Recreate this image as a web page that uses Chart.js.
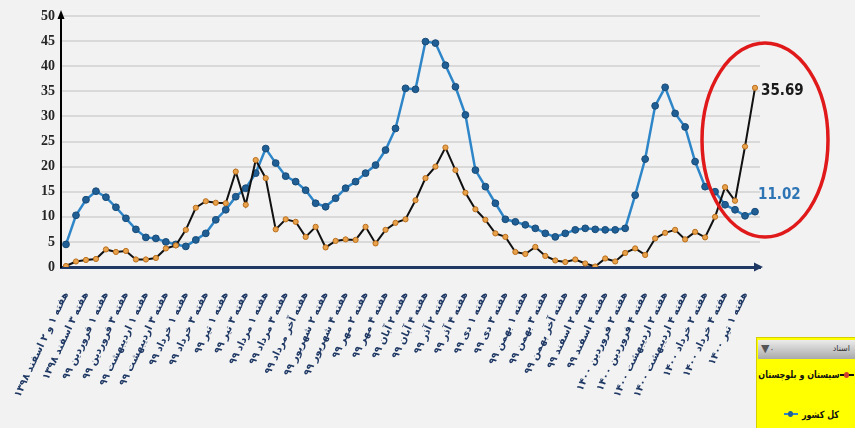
<!DOCTYPE html>
<html>
<head>
<meta charset="utf-8">
<script src="https://cdn.jsdelivr.net/npm/chart.js@4.4.1/dist/chart.umd.min.js"></script>
<style>
  html, body { margin: 0; padding: 0; background: #f2f2f2; }
  #wrap { position: relative; width: 855px; height: 428px; overflow: hidden; background: #f2f2f2; }
  #myChart { position: absolute; left: 0; top: 0; }
  #legend { position: absolute; left: 756px; top: 337px; width: 101px; height: 95px; background: #ffff00; border: 1px solid #d6cf00; box-sizing: border-box; }
  .lg-head { position: absolute; left: 1px; top: 2px; right: 0; height: 19px; background: linear-gradient(#ececec, #a9a9a9); }
  .lg-title { position: absolute; right: 6px; top: 4px; font: 8px "DejaVu Sans"; color: #333; direction: rtl; }
  .lg-filter { position: absolute; left: 3px; top: 2px; font: 11px "DejaVu Sans"; color: #555; }
  .lg-row { position: absolute; display: flex; align-items: center; white-space: nowrap; }
  .lg-text { display: inline-block; font: bold 10px "DejaVu Sans"; color: #111; direction: rtl; transform: scaleX(0.8); }
  #t1 { transform-origin: right center; margin-left: -22px; }
  #t2 { transform-origin: left center; }
  .ic { position: relative; display: inline-block; width: 14px; height: 8px; }
  .ic::before { content: ""; position: absolute; left: 0; right: 0; top: 3px; height: 2px; }
  .ic i { position: absolute; left: 4px; top: 1px; width: 5px; height: 6px; border-radius: 50%; }
  .ic1::before { background: #111; }
  .ic1 i { background: #d0402a; }
  .ic2::before { background: #2e86c8; }
  .ic2 i { background: #1f5f95; }
  #r1 { right: 2px; top: 31px; }
  #r2 { left: 27px; top: 67px; }
</style>
</head>
<body>
<div id="wrap">
  <canvas id="myChart" width="855" height="428"></canvas>
  <div id="legend">
    <div class="lg-head"><span class="lg-filter">▼<small>۰</small></span><span class="lg-title">اسناد</span></div>
    <div class="lg-row" id="r1"><span class="lg-text" id="t1"></span><span class="ic ic1"><i></i></span></div>
    <div class="lg-row" id="r2"><span class="ic ic2"><i></i></span>&nbsp;<span class="lg-text" id="t2"></span></div>
  </div>
</div>
<script>
const ctx = document.getElementById('myChart');

// one tick label every two weeks
const tickLabels = [
  'هفته ۱ و ۲ اسفند ۱۳۹۸', 'هفته ۳ اسفند ۱۳۹۸', 'هفته ۱ فروردین ۹۹', 'هفته ۳ فروردین ۹۹',
  'هفته ۱ اردیبهشت ۹۹', 'هفته ۳ اردیبهشت ۹۹', 'هفته ۱ خرداد ۹۹', 'هفته ۳ خرداد ۹۹',
  'هفته ۱ تیر ۹۹', 'هفته ۳ تیر ۹۹', 'هفته ۱ مرداد ۹۹', 'هفته ۳ مرداد ۹۹',
  'هفته آخر مرداد ۹۹', 'هفته ۲ شهریور ۹۹', 'هفته ۴ شهریور ۹۹', 'هفته ۲ مهر ۹۹',
  'هفته ۴ مهر ۹۹', 'هفته ۲ آبان ۹۹', 'هفته ۴ آبان ۹۹', 'هفته ۲ آذر ۹۹',
  'هفته ۴ آذر ۹۹', 'هفته ۱ دی ۹۹', 'هفته ۳ دی ۹۹', 'هفته ۱ بهمن ۹۹',
  'هفته ۳ بهمن ۹۹', 'هفته آخر بهمن ۹۹', 'هفته ۲ اسفند ۹۹', 'هفته ۴ اسفند ۹۹',
  'هفته ۲ فروردین ۱۴۰۰', 'هفته ۴ فروردین ۱۴۰۰', 'هفته ۲ اردیبهشت ۱۴۰۰', 'هفته ۴ اردیبهشت ۱۴۰۰',
  'هفته ۲ خرداد ۱۴۰۰', 'هفته ۴ خرداد ۱۴۰۰', 'هفته ۱ تیر ۱۴۰۰'
];

const seriesNames = ['سیستان و بلوچستان', 'کل کشور'];

const sistanValues = [
  0.2, 1.1, 1.4, 1.6, 3.5, 3.0, 3.2, 1.5, 1.5, 1.8,
  3.7, 4.3, 7.4, 11.8, 13.1, 12.8, 12.7, 19.0, 12.4, 21.3,
  17.7, 7.5, 9.5, 9.0, 6.0, 8.0, 3.9, 5.2, 5.5, 5.4,
  8.0, 4.7, 7.4, 8.8, 9.5, 13.3, 17.7, 20.0, 23.8, 19.3,
  14.8, 11.5, 9.4, 6.7, 6.0, 3.0, 2.6, 4.0, 2.2, 1.3,
  1.0, 1.5, 0.7, 0.1, 1.7, 1.1, 2.8, 3.7, 2.4, 5.7,
  6.8, 7.4, 5.5, 7.0, 5.9, 10.0, 15.9, 13.2, 24.0, 35.69
];

const countryValues = [
  4.5, 10.3, 13.4, 15.1, 13.9, 11.9, 9.7, 7.5, 5.9, 5.7,
  5.0, 4.5, 4.1, 5.4, 6.7, 9.4, 11.4, 14.0, 15.7, 18.7,
  23.6, 20.7, 18.1, 17.0, 15.3, 12.7, 12.0, 13.7, 15.7, 17.0,
  18.7, 20.3, 23.3, 27.6, 35.6, 35.4, 44.9, 44.6, 40.2, 35.9,
  30.3, 19.3, 16.0, 12.7, 9.5, 9.0, 8.4, 7.7, 6.7, 6.0,
  6.7, 7.4, 7.7, 7.5, 7.4, 7.4, 7.7, 14.3, 21.5, 32.1,
  35.8, 30.6, 27.9, 21.0, 16.0, 15.0, 12.4, 11.4, 10.2, 11.02
];

const labels = [];
for (let i = 0; i < countryValues.length; ++i) {
  labels.push(i % 2 === 0 ? tickLabels[i / 2] : '');
}

document.getElementById('t1').textContent = seriesNames[0];
document.getElementById('t2').textContent = seriesNames[1];

// arrows on the axes, red circle and end values
const overlay = {
  id: 'overlay',
  afterDraw(chart) {
    const c = chart.ctx;
    const a = chart.chartArea;
    const xs = chart.scales.x, ys = chart.scales.y;
    c.save();
    c.fillStyle = '#000';
    c.beginPath();
    c.moveTo(a.left, a.top - 6);
    c.lineTo(a.left - 3.5, a.top + 3);
    c.lineTo(a.left + 3.5, a.top + 3);
    c.fill();
    c.fillStyle = '#203864';
    c.beginPath();
    c.moveTo(a.right + 3, a.bottom);
    c.lineTo(a.right - 6, a.bottom - 4.5);
    c.lineTo(a.right - 6, a.bottom + 4.5);
    c.fill();

    const last = countryValues.length - 1;
    c.strokeStyle = '#e0191b';
    c.lineWidth = 3.5;
    c.beginPath();
    c.ellipse(xs.getPixelForValue(last) + 10, ys.getPixelForValue(25.3), 63, 97, 0, 0, Math.PI * 2);
    c.stroke();

    const p0 = chart.getDatasetMeta(0).data[last];
    const p1 = chart.getDatasetMeta(1).data[last];
    c.font = 'bold 15px "Liberation Sans Narrow", "DejaVu Sans Condensed"';
    c.textBaseline = 'middle';
    c.textAlign = 'left';
    c.fillStyle = '#1a1a1a';
    c.fillText(sistanValues[last].toFixed(2), p0.x + 6, p0.y + 3);
    c.fillStyle = '#2e75b6';
    c.fillText(countryValues[last].toFixed(2), p1.x + 3, p1.y - 17);
    c.restore();
  }
};

const chart = new Chart(ctx, {
  type: 'line',
  data: {
    labels: labels,
    datasets: [
      {
        label: seriesNames[0],
        data: sistanValues,
        borderColor: '#111111',
        borderWidth: 2,
        pointRadius: 2.6,
        pointBackgroundColor: '#e9a24a',
        pointBorderColor: '#b86e1e',
        pointBorderWidth: 1,
        tension: 0,
        order: 0
      },
      {
        label: seriesNames[1],
        data: countryValues,
        borderColor: '#2e86c8',
        borderWidth: 2.5,
        pointRadius: 3.4,
        pointBackgroundColor: '#1f5f95',
        pointBorderColor: '#184a76',
        pointBorderWidth: 1,
        tension: 0,
        order: 1
      }
    ]
  },
  options: {
    responsive: false,
    animation: false,
    layout: { padding: { top: 16, right: 95, bottom: 0, left: 0 } },
    plugins: {
      legend: { display: false },
      tooltip: { enabled: false }
    },
    scales: {
      x: {
        offset: true,
        grid: { display: false, drawTicks: false },
        border: { display: true, color: '#203864', width: 3 },
        ticks: {
          autoSkip: false,
          minRotation: 65,
          maxRotation: 65,
          padding: 23,
          color: '#1f3864',
          font: { family: 'DejaVu Sans', size: 10, weight: 'bold' }
        },
        afterFit(scale) {
          scale.paddingLeft = 0;
          scale.paddingRight = 0;
          scale.height = 161;
        }
      },
      y: {
        min: 0,
        max: 50,
        grid: { color: '#d9d9d9', lineWidth: 2, drawTicks: false },
        border: { display: true, color: '#000', width: 2 },
        ticks: {
          stepSize: 5,
          padding: 6,
          color: '#262626',
          font: { family: 'Liberation Sans Narrow', size: 14, weight: 'bold' }
        },
        afterFit(scale) {
          scale.width = 61;
        }
      }
    }
  },
  plugins: [overlay]
});
</script>
</body>
</html>
